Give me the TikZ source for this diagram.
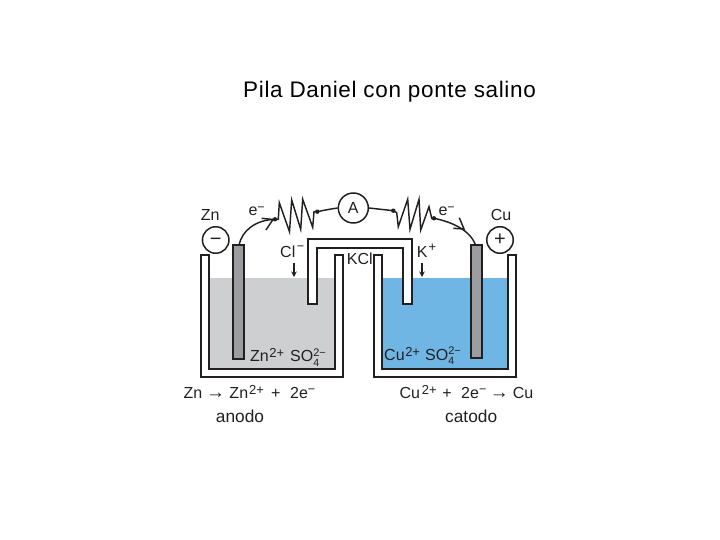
\documentclass[tikz,border=0pt]{standalone}
\usepackage{fontspec}
\setmainfont{Liberation Sans}
\usetikzlibrary{arrows.meta}
\definecolor{ink}{HTML}{231F20}
\definecolor{greysol}{HTML}{CDCFD1}
\definecolor{bluesol}{HTML}{6FB6E5}
\definecolor{rod}{HTML}{9B9DA0}
\newcommand{\lbl}{\fontsize{16}{18}\selectfont}
\newcommand{\lblb}{\fontsize{17.3}{19}\selectfont}
\newcommand{\sps}[1]{\raisebox{3.8pt}{\fontsize{13}{14}\selectfont #1}}
\newcommand{\spm}[1]{\raisebox{#1}{\fontsize{12.5}{14}\selectfont −}}
\newcommand{\arr}{{\fontsize{19}{20}\selectfont →}}
\newcommand{\sulf}{SO\rlap{\raisebox{5.5pt}{\fontsize{11}{12}\selectfont 2−}}\raisebox{-4.5pt}{\fontsize{10.5}{12}\selectfont 4}}
\tikzset{
  x=1pt,y=-1pt,
  lab/.style={anchor=base west,inner sep=0pt,text=ink,font=\lbl},
  wall/.style={draw=ink,line width=1.6pt,fill=white,line join=miter},
  rodshape/.style={draw=ink,line width=1.4pt,fill=rod},
  wire/.style={draw=ink,line width=1.45pt,line join=miter},
  sign/.style={circle,draw=ink,line width=1.5pt,minimum size=26.5pt,inner sep=0pt,fill=white,text=ink},
  jdot/.style={circle,fill=ink,inner sep=0pt,minimum size=4.4pt},
  ionarrow/.style={draw=ink,line width=1.2pt,-{Stealth[length=5.5pt,width=5.5pt]}}
}
\begin{document}
\begin{tikzpicture}
\useasboundingbox (0,0) rectangle (720,540);
\node[anchor=base west,inner sep=0pt,font=\fontsize{22.5}{24}\selectfont\addfontfeature{LetterSpace=2.9}] (title) at (243,98) {Pila Daniel con ponte salino};
% beakers
\path[wall] (201,255) -- (209,255) -- (209,369) -- (335,369) -- (335,255) -- (343,255) -- (343,377) -- (201,377) -- cycle;
\path[wall] (374,255) -- (382,255) -- (382,369) -- (508,369) -- (508,255) -- (516,255) -- (516,377) -- (374,377) -- cycle;
\fill[greysol] (209.8,278) rectangle (334.2,368.2);
\fill[bluesol] (382.8,278) rectangle (507.2,368.2);
% salt bridge
\path[wall] (308,304) -- (308,239) -- (412,239) -- (412,304) -- (403,304) -- (403,248) -- (317,248) -- (317,304) -- cycle;
% electrodes
\path[rodshape] (233,245) rectangle (244,359);
\path[rodshape] (471,245) rectangle (482,358);
\coordinate (znTop) at (239,245);
\coordinate (cuTop) at (475.5,245);
% signs and ammeter
\node[sign,font=\fontsize{20}{20}\selectfont] (neg) at (215.7,240) {\raisebox{-5.6pt}[0pt][0pt]{−}};
\node[sign,font=\fontsize{20}{20}\selectfont] (pos) at (500,240) {\raisebox{-5.6pt}[0pt][0pt]{+}};
\node[sign,minimum size=30pt,font=\lbl] (amm) at (353.3,208) {A};
% junction dots
\node[jdot] (dl1) at (275,219.3) {};
\node[jdot] (dl2) at (317.3,211.7) {};
\node[jdot] (dr1) at (393.3,210.7) {};
\node[jdot] (dr2) at (434,218.3) {};
% left circuit
\draw[wire] (znTop) .. controls (242,231) and (255,220) .. (dl1.center);
\draw[wire] (dl1.center) -- (278.3,219.3) -- (279.3,202.7) -- (289.5,231.7) -- (291.7,200) -- (300.7,229.3) -- (302.7,199.3) -- (312.7,227.3) -- (314,211.7) -- (dl2.center);
\draw[wire] (dl2.center) .. controls (325,210) and (331,209) .. (amm.west);
\draw[wire] (261.7,218.3) -- (273,219.5) -- (266,230);
% right circuit
\draw[wire] (amm.east) -- (dr1.center);
\draw[wire] (dr1.center) -- (396.7,212.7) -- (398.3,226.7) -- (407.7,199.3) -- (410,229.3) -- (419,199.3) -- (420.7,230) -- (429,206.7) -- (431.7,218.3) -- (dr2.center);
\draw[wire] (dr2.center) .. controls (452,222) and (470,230) .. (cuTop);
\draw[wire] (459.3,217.7) -- (464,229) -- (453.3,228.3);
% ion arrows
\coordinate (clA) at (294,263); \coordinate (clB) at (294,277);
\coordinate (kA) at (422,263); \coordinate (kB) at (422,277);
\draw[ionarrow] (clA) -- (clB);
\draw[ionarrow] (kA) -- (kB);
% labels
\node[lab] (zn) at (200.7,221) {Zn};
\node[lab] (cu) at (490.7,221) {Cu};
\node[lab] (el) at (248.3,215.7) {e\spm{4.5pt}};
\node[lab] (er) at (438.3,215.7) {e\spm{4.5pt}};
\node[lab] (cl) at (280,257.7) {Cl\hspace{1.5pt}\spm{7.5pt}};
\node[lab] (kp) at (416.7,258) {K\hspace{1pt}\raisebox{6pt}{\fontsize{13}{14}\selectfont +}};
\node[lab] (kcl) at (346.7,264) {KCl};
\node[lab] (ionl) at (250,361.5) {Zn\hspace{0.6pt}\sps{2+}\hspace{5.9pt}\sulf};
\node[lab] (ionr) at (384,360) {Cu\hspace{0.6pt}\sps{2+}\hspace{5.1pt}\sulf};
\node[lab] (eql) at (183.3,398.3) {Zn\hspace{4pt}\arr\hspace{4.3pt}Zn\hspace{1pt}\sps{2+}\hspace{7.1pt}+\hspace{9.7pt}2e\spm{5pt}};
\node[lab] (eqr) at (399.3,398.3) {Cu\hspace{2pt}\sps{2+}\hspace{5.6pt}+\hspace{9.5pt}2e\spm{5pt}\hspace{3.6pt}\arr\hspace{4pt}Cu};
\node[lab,font=\lblb] (an) at (215.7,422) {anodo};
\node[lab,font=\lblb] (ca) at (445,422) {catodo};
\end{tikzpicture}
\end{document}
